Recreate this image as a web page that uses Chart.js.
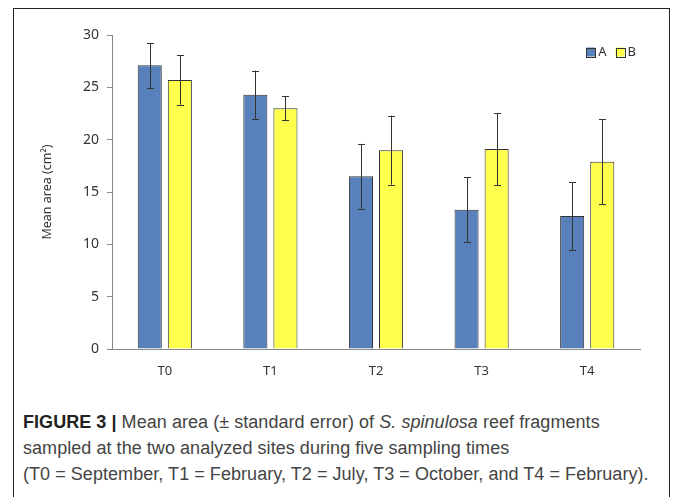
<!DOCTYPE html>
<html>
<head>
<meta charset="utf-8">
<script src="https://cdn.jsdelivr.net/npm/chart.js@4.4.1/dist/chart.umd.min.js"></script>
<style>
  html, body { margin: 0; padding: 0; background: #fff; overflow: hidden; }
  #frame {
    position: absolute; left: 13px; top: 8px; width: 655px; height: 600px;
    border: 1.5px solid #222; border-bottom: none;
  }
  #wrap { position: absolute; left: 0; top: 0; width: 673px; height: 390px; }
  #caption {
    position: absolute; left: 23px; top: 409px; width: 645px;
    font-family: "Liberation Sans Narrow", "Liberation Sans", sans-serif;
    font-size: 18px; line-height: 26px; color: #444; letter-spacing: 0.05px;
  }
  #caption b { color: #222; }
</style>
</head>
<body>
<div id="frame"></div>
<div id="wrap"><canvas id="chart"></canvas></div>
<div id="caption"><b>FIGURE 3 |</b> Mean area (&plusmn; standard error) of <i>S. spinulosa</i> reef fragments<br>sampled at the two analyzed sites during five sampling times<br>(T0 = September, T1 = February, T2 = July, T3 = October, and T4 = February).</div>
<script>
// Dados
const times = ["T0", "T1", "T2", "T3", "T4"];
const siteA = [27.1, 24.3, 16.5, 13.3, 12.7];
const siteB = [25.7, 23.0, 19.0, 19.1, 17.9];
const errA = [2.15, 2.3, 3.1, 3.1, 3.25];
const errB = [2.35, 1.15, 3.3, 3.45, 4.05];

// Plugin simples para as barras de erro
const errorBars = {
  id: "errorBars",
  afterDatasetsDraw(chart) {
    const ctx = chart.ctx;
    const y = chart.scales.y;
    const errs = [errA, errB];
    ctx.save();
    ctx.strokeStyle = "#333";
    ctx.lineWidth = 1;
    chart.data.datasets.forEach((ds, i) => {
      chart.getDatasetMeta(i).data.forEach((bar, j) => {
        const v = ds.data[j];
        const top = y.getPixelForValue(v + errs[i][j]);
        const bot = y.getPixelForValue(v - errs[i][j]);
        const x = Math.round(bar.x) + 0.5;
        ctx.beginPath();
        ctx.moveTo(x, top); ctx.lineTo(x, bot);
        ctx.moveTo(x - 3.5, Math.round(top) + 0.5); ctx.lineTo(x + 3.5, Math.round(top) + 0.5);
        ctx.moveTo(x - 3.5, Math.round(bot) + 0.5); ctx.lineTo(x + 3.5, Math.round(bot) + 0.5);
        ctx.stroke();
      });
    });
    ctx.restore();
  }
};

// Legenda dentro da área do gráfico, canto superior direito
const insideLegend = {
  id: "insideLegend",
  afterDraw(chart) {
    const ctx = chart.ctx;
    const area = chart.chartArea;
    ctx.save();
    ctx.font = "13px 'Noto Sans'";
    ctx.textBaseline = "middle";
    const box = 9, gapText = 3, gapItem = 9;
    const cy = area.top + 17;
    const items = chart.data.datasets.map(ds => ({ ds, w: box + gapText + ctx.measureText(ds.label).width }));
    let x = area.right - 4 - items.reduce((s, it) => s + it.w, 0) - gapItem * (items.length - 1);
    items.forEach(it => {
      ctx.fillStyle = it.ds.backgroundColor;
      ctx.fillRect(x, cy - box / 2, box, box);
      ctx.strokeStyle = "#333";
      ctx.lineWidth = 1;
      ctx.strokeRect(Math.round(x) + 0.5, Math.round(cy - box / 2) + 0.5, box, box);
      ctx.fillStyle = "#333";
      ctx.fillText(it.ds.label, x + box + gapText, cy);
      x += it.w + gapItem;
    });
    ctx.restore();
  }
};

const ctx = document.getElementById("chart").getContext("2d");
new Chart(ctx, {
  type: "bar",
  data: {
    labels: times,
    datasets: [
      { label: "A", data: siteA, backgroundColor: "#5880BA", borderColor: "#333", borderWidth: 1 },
      { label: "B", data: siteB, backgroundColor: "#FFFF4D", borderColor: "#333", borderWidth: 1 }
    ]
  },
  options: {
    responsive: true,
    maintainAspectRatio: false,
    animation: false,
    datasets: { bar: { categoryPercentage: 0.57, barPercentage: 0.8 } },
    layout: { padding: { left: 38, right: 33, top: 35, bottom: 11 } },
    plugins: {
      tooltip: { enabled: false },
      legend: { display: false }
    },
    scales: {
      x: {
        grid: { display: false, drawTicks: false },
        border: { color: "#888", width: 1 },
        ticks: { color: "#333", padding: 14, font: { family: "Noto Sans", size: 13 } },
        afterFit(scale) { scale.height = 30; }
      },
      y: {
        min: 0, max: 30,
        ticks: { stepSize: 5, color: "#333", padding: 8, font: { family: "Noto Sans", size: 14 } },
        grid: { drawOnChartArea: false, drawTicks: true, tickLength: 5, color: "#888" },
        border: { color: "#888", width: 1 },
        title: {
          display: true, text: "Mean area (cm²)", color: "#333",
          font: { family: "Noto Sans", size: 12.5 }, padding: 2
        },
        afterFit(scale) { scale.width = 74; }
      }
    }
  },
  plugins: [errorBars, insideLegend]
});
</script>
</body>
</html>
